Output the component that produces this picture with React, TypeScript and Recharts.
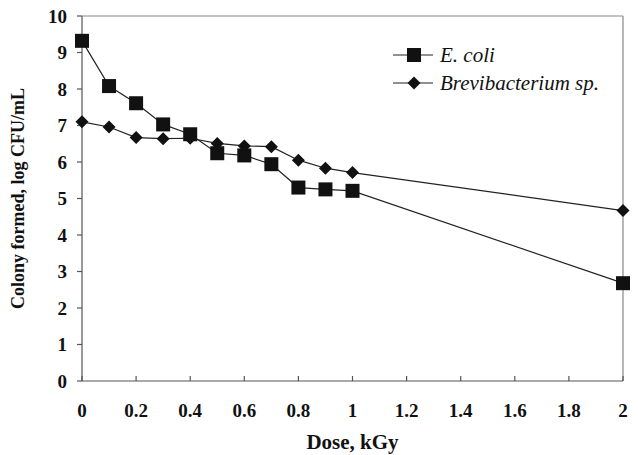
import { LineChart, Line, XAxis, YAxis, ReferenceLine } from "recharts";

const doses = [0, 0.1, 0.2, 0.3, 0.4, 0.5, 0.6, 0.7, 0.8, 0.9, 1.0, 2.0];
const ecoli = [9.32, 8.08, 7.61, 7.03, 6.76, 6.24, 6.18, 5.94, 5.3, 5.25, 5.21, 2.68];
const brevi = [7.1, 6.96, 6.67, 6.64, 6.65, 6.51, 6.44, 6.42, 6.05, 5.83, 5.71, 4.67];
const xTicks = [0, 0.2, 0.4, 0.6, 0.8, 1, 1.2, 1.4, 1.6, 1.8, 2];
const yTicks = [0, 1, 2, 3, 4, 5, 6, 7, 8, 9, 10];

const data = doses.map((d, i) => ({ dose: d, ecoli: ecoli[i], brevi: brevi[i] }));

const FONT = '"Liberation Serif", "Times New Roman", serif';
const INK = "#111";
const AXIS = "#555";

const SquareDot = (props: any) => {
  const { cx, cy, index } = props;
  if (cx == null || cy == null) return null;
  return <rect key={`s-${index}`} x={cx - 7} y={cy - 7} width={14} height={14} fill={INK} />;
};

const DiamondDot = (props: any) => {
  const { cx, cy, index } = props;
  if (cx == null || cy == null) return null;
  return (
    <polygon
      key={`d-${index}`}
      points={`${cx},${cy - 6.5} ${cx + 6.5},${cy} ${cx},${cy + 6.5} ${cx - 6.5},${cy}`}
      fill={INK}
    />
  );
};

// ticks point into the plot on the x axis
const XTick = (props: any) => {
  const { x, y, payload } = props;
  return (
    <g>
      <line x1={x} x2={x} y1={y} y2={y - 5} stroke={AXIS} strokeWidth={1.2} />
      <text
        x={x}
        y={y + 36}
        textAnchor="middle"
        fontFamily={FONT}
        fontWeight="bold"
        fontSize={19}
        fill={INK}
      >
        {payload.value}
      </text>
    </g>
  );
};

const legendRow = { display: "flex", alignItems: "center", height: 28 } as const;

const LegendBox = () => (
  <div
    style={{
      position: "absolute",
      left: 393,
      top: 41,
      fontFamily: FONT,
      fontStyle: "italic",
      fontSize: 21,
      color: INK,
      whiteSpace: "nowrap",
    }}
  >
    <div style={legendRow}>
      <svg width={42} height={16}>
        <line x1={0} x2={40} y1={8} y2={8} stroke="#222" strokeWidth={1.2} />
        <rect x={14} y={1} width={14} height={14} fill={INK} />
      </svg>
      <span style={{ marginLeft: 5 }}>E. coli</span>
    </div>
    <div style={legendRow}>
      <svg width={42} height={16}>
        <line x1={0} x2={40} y1={8} y2={8} stroke="#222" strokeWidth={1.2} />
        <polygon points="21,1.5 27.5,8 21,14.5 14.5,8" fill={INK} />
      </svg>
      <span style={{ marginLeft: 5 }}>Brevibacterium sp.</span>
    </div>
  </div>
);

export default function App() {
  return (
    <div style={{ position: "absolute", left: 0, top: 0, width: 638, height: 455, background: "#fff" }}>
      <style>{"body{margin:0;background:#fff}"}</style>
      <LineChart
        width={638}
        height={455}
        data={data}
        margin={{ top: 16, right: 15, bottom: 44, left: 0 }}
      >
        <XAxis
          dataKey="dose"
          type="number"
          domain={[0, 2]}
          ticks={xTicks}
          tick={<XTick />}
          tickLine={false}
          tickSize={0}
          tickMargin={0}
          height={30}
          axisLine={{ stroke: AXIS, strokeWidth: 1.2 }}
          label={{
            value: "Dose, kGy",
            position: "bottom",
            offset: 23,
            fontFamily: FONT,
            fontWeight: "bold",
            fontSize: 21,
            fill: INK,
          }}
        />
        <YAxis
          type="number"
          domain={[0, 10]}
          ticks={yTicks}
          width={82}
          tickSize={5}
          tickMargin={10}
          tick={{ fontFamily: FONT, fontWeight: "bold", fontSize: 19, fill: INK }}
          tickLine={{ stroke: AXIS, strokeWidth: 1.2 }}
          axisLine={{ stroke: AXIS, strokeWidth: 1.2 }}
          label={{
            value: "Colony formed, log CFU/mL",
            angle: -90,
            position: "insideLeft",
            offset: 18,
            style: { textAnchor: "middle" },
            fontFamily: FONT,
            fontWeight: "bold",
            fontSize: 18,
            fill: INK,
          }}
        />
        <ReferenceLine y={10} stroke="#888" strokeWidth={1.2} />
        <ReferenceLine x={2} stroke="#888" strokeWidth={1.2} />
        <Line
          dataKey="ecoli"
          stroke="#222"
          strokeWidth={1.2}
          dot={<SquareDot />}
          isAnimationActive={false}
        />
        <Line
          dataKey="brevi"
          stroke="#222"
          strokeWidth={1.2}
          dot={<DiamondDot />}
          isAnimationActive={false}
        />
      </LineChart>
      <LegendBox />
    </div>
  );
}
